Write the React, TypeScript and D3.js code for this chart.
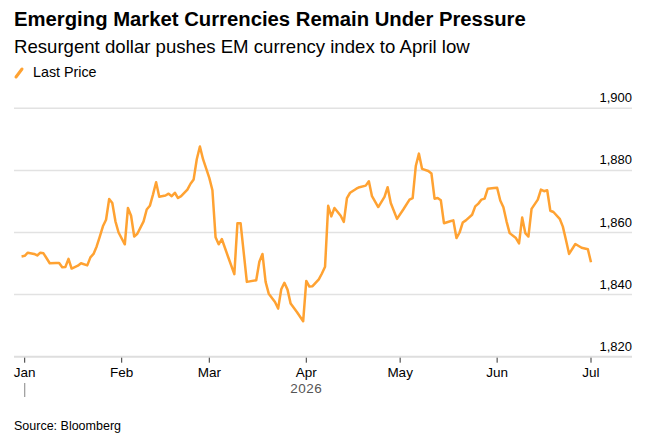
import React, { useEffect, useRef } from 'react';
import * as d3 from 'd3';

const dates = [
    '2025-12-31', '2026-01-01', '2026-01-02', '2026-01-04', '2026-01-05', '2026-01-06',
    '2026-01-07', '2026-01-08', '2026-01-09', '2026-01-11', '2026-01-12', '2026-01-13',
    '2026-01-14', '2026-01-15', '2026-01-16', '2026-01-18', '2026-01-19', '2026-01-21',
    '2026-01-22', '2026-01-23', '2026-01-24', '2026-01-25', '2026-01-26', '2026-01-27',
    '2026-01-28', '2026-01-29', '2026-01-30', '2026-01-31', '2026-02-02', '2026-02-03',
    '2026-02-04', '2026-02-05', '2026-02-06', '2026-02-08', '2026-02-09', '2026-02-10',
    '2026-02-11', '2026-02-12', '2026-02-13', '2026-02-15', '2026-02-16', '2026-02-17',
    '2026-02-18', '2026-02-19', '2026-02-20', '2026-02-22', '2026-02-23', '2026-02-24',
    '2026-02-25', '2026-02-26', '2026-02-27', '2026-03-01', '2026-03-02', '2026-03-03',
    '2026-03-04', '2026-03-05', '2026-03-07', '2026-03-09', '2026-03-10', '2026-03-11',
    '2026-03-13', '2026-03-16', '2026-03-17', '2026-03-18', '2026-03-19', '2026-03-20',
    '2026-03-22', '2026-03-23', '2026-03-24', '2026-03-25', '2026-03-26', '2026-03-27',
    '2026-03-29', '2026-03-31', '2026-04-01', '2026-04-02', '2026-04-03', '2026-04-05',
    '2026-04-06', '2026-04-07', '2026-04-08', '2026-04-09', '2026-04-10', '2026-04-12',
    '2026-04-13', '2026-04-14', '2026-04-15', '2026-04-17', '2026-04-18', '2026-04-20',
    '2026-04-21', '2026-04-22', '2026-04-24', '2026-04-26', '2026-04-27', '2026-04-28',
    '2026-04-30', '2026-05-02', '2026-05-04', '2026-05-05', '2026-05-06', '2026-05-07',
    '2026-05-08', '2026-05-10', '2026-05-11', '2026-05-12', '2026-05-13', '2026-05-14',
    '2026-05-15', '2026-05-17', '2026-05-18', '2026-05-19', '2026-05-20', '2026-05-21',
    '2026-05-22', '2026-05-24', '2026-05-25', '2026-05-26', '2026-05-27', '2026-05-28',
    '2026-05-29', '2026-05-31', '2026-06-01', '2026-06-02', '2026-06-03', '2026-06-04',
    '2026-06-05', '2026-06-07', '2026-06-08', '2026-06-09', '2026-06-10', '2026-06-11',
    '2026-06-12', '2026-06-14', '2026-06-15', '2026-06-16', '2026-06-17', '2026-06-18',
    '2026-06-19', '2026-06-21', '2026-06-22', '2026-06-23', '2026-06-24', '2026-06-26',
    '2026-06-28', '2026-06-30', '2026-07-01',
];

const lastPrice = [
    1852.3, 1852.5, 1853.5, 1853.1, 1852.6, 1853.5,
    1853.3, 1851.7, 1850.1, 1850.2, 1850.2, 1848.8,
    1848.9, 1851.5, 1848.4, 1849.3, 1850.1, 1849.4,
    1852.0, 1853.1, 1855.5, 1858.7, 1862.0, 1864.1,
    1870.8, 1869.5, 1863.6, 1860.0, 1856.2, 1867.9,
    1865.4, 1858.7, 1859.6, 1863.6, 1867.4, 1868.6,
    1872.2, 1876.2, 1871.5, 1871.9, 1872.5, 1871.7,
    1872.8, 1871.1, 1871.7, 1873.8, 1875.7, 1877.1,
    1883.6, 1887.7, 1883.6, 1877.6, 1873.6, 1858.5,
    1856.2, 1857.9, 1852.2, 1846.6, 1863.0, 1863.0,
    1844.1, 1844.6, 1850.6, 1853.1, 1844.1, 1840.3,
    1837.6, 1835.5, 1841.7, 1843.8, 1841.6, 1837.1,
    1834.4, 1831.4, 1844.4, 1842.6, 1842.7, 1844.9,
    1846.8, 1849.0, 1868.6, 1865.2, 1867.9, 1865.4,
    1863.4, 1871.1, 1872.8, 1874.1, 1874.6, 1875.1,
    1876.5, 1871.7, 1868.2, 1871.5, 1874.6, 1869.5,
    1864.4, 1867.4, 1870.6, 1871.1, 1881.4, 1885.4,
    1880.5, 1879.8, 1879.0, 1870.9, 1871.1, 1870.4,
    1863.0, 1863.6, 1863.9, 1858.2, 1860.0, 1863.2,
    1863.9, 1865.7, 1868.4, 1869.3, 1870.6, 1870.9,
    1874.1, 1874.3, 1874.4, 1870.3, 1868.1, 1863.6,
    1859.8, 1858.2, 1856.5, 1864.8, 1859.8, 1858.7,
    1867.6, 1870.6, 1873.8, 1873.3, 1873.6, 1867.0,
    1866.6, 1864.4, 1861.9, 1857.6, 1853.1, 1856.3,
    1855.1, 1854.6, 1850.4,
];

const yTicks = [1820, 1840, 1860, 1880, 1900];
const monthTicks = ['2026-01-01', '2026-02-01', '2026-03-01', '2026-04-01', '2026-05-01', '2026-06-01', '2026-07-01'];

const width = 651;
const height = 440;
const font = '"Liberation Sans", Arial, Helvetica, sans-serif';
const orange = '#ffa232';

const App = () => {
    const chart = useRef<SVGSVGElement>(null);

    useEffect(() => {
        const parse = d3.utcParse('%Y-%m-%d');
        const data = dates.map((d, i) => ({ date: parse(d) as Date, value: lastPrice[i] }));

        const svg = d3.select(chart.current);
        svg.selectAll('*').remove();

        const left = 14;
        const right = 632;

        const x = d3
            .scaleUtc()
            .domain([parse('2026-01-01') as Date, parse('2026-07-01') as Date])
            .range([24.7, 591]);
        const y = d3.scaleLinear().domain([1820, 1900]).range([356.7, 108.3]);

        // titles
        svg.append('text')
            .attr('x', left)
            .attr('y', 26)
            .text('Emerging Market Currencies Remain Under Pressure')
            .style('font-family', font)
            .style('font-weight', 'bold')
            .style('font-size', '20.3px')
            .attr('fill', '#000');
        svg.append('text')
            .attr('x', left)
            .attr('y', 53)
            .text('Resurgent dollar pushes EM currency index to April low')
            .style('font-family', font)
            .style('font-size', '18.6px')
            .attr('fill', '#000');

        // legend
        svg.append('line')
            .attr('x1', 16)
            .attr('y1', 77)
            .attr('x2', 22)
            .attr('y2', 69)
            .attr('stroke', orange)
            .attr('stroke-width', 3)
            .attr('stroke-linecap', 'round');
        svg.append('text')
            .attr('x', 33)
            .attr('y', 77)
            .text('Last Price')
            .style('font-family', font)
            .style('font-size', '14.3px')
            .attr('fill', '#000');

        // grid and y labels
        const grid = svg.append('g');
        grid.selectAll('line')
            .data(yTicks.filter(t => t !== 1820))
            .join('line')
            .attr('x1', left)
            .attr('x2', right)
            .attr('y1', d => y(d))
            .attr('y2', d => y(d))
            .attr('stroke', '#e2e2e2')
            .attr('stroke-width', 1.5);
        grid.selectAll('text')
            .data(yTicks)
            .join('text')
            .attr('x', right)
            .attr('y', d => y(d) - 6)
            .attr('text-anchor', 'end')
            .text(d => d3.format(',')(d))
            .style('font-family', font)
            .style('font-size', '13px')
            .attr('fill', '#000');

        // x axis
        const xAxis = svg.append('g');
        xAxis.append('line')
            .attr('x1', left)
            .attr('x2', right)
            .attr('y1', y(1820))
            .attr('y2', y(1820))
            .attr('stroke', '#dedede')
            .attr('stroke-width', 2);
        const months = monthTicks.map(d => parse(d) as Date);
        xAxis.selectAll('line.tick')
            .data(months)
            .join('line')
            .attr('class', 'tick')
            .attr('x1', d => x(d))
            .attr('x2', d => x(d))
            .attr('y1', y(1820) + 1)
            .attr('y2', y(1820) + 6)
            .attr('stroke', '#333')
            .attr('stroke-width', 1);
        xAxis.selectAll('text.tick')
            .data(months)
            .join('text')
            .attr('class', 'tick')
            .attr('x', d => x(d))
            .attr('y', 377)
            .attr('text-anchor', 'middle')
            .text(d => d3.utcFormat('%b')(d))
            .style('font-family', font)
            .style('font-size', '13.5px')
            .attr('fill', '#000');
        xAxis.append('line')
            .attr('x1', x(months[0]))
            .attr('x2', x(months[0]))
            .attr('y1', 383)
            .attr('y2', 397)
            .attr('stroke', '#999')
            .attr('stroke-width', 1.2);
        xAxis.append('text')
            .attr('x', x(months[3]))
            .attr('y', 393)
            .attr('text-anchor', 'middle')
            .text('2026')
            .style('font-family', font)
            .style('font-size', '13.5px')
            .style('letter-spacing', '0.5px')
            .attr('fill', '#555');

        // price line
        const line = d3
            .line<{ date: Date; value: number }>()
            .x(d => x(d.date))
            .y(d => y(d.value));
        svg.append('path')
            .datum(data)
            .attr('d', line)
            .attr('fill', 'none')
            .attr('stroke', orange)
            .attr('stroke-width', 2.5)
            .attr('stroke-linejoin', 'round');

        svg.append('text')
            .attr('x', left)
            .attr('y', 430)
            .text('Source: Bloomberg')
            .style('font-family', font)
            .style('font-size', '12.5px')
            .attr('fill', '#000');
    }, []);

    return (
        <div style={{ position: 'absolute', left: 0, top: 0 }}>
            <svg ref={chart} width={width} height={height} style={{ display: 'block', background: '#fff' }}></svg>
        </div>
    );
};

export default App;
